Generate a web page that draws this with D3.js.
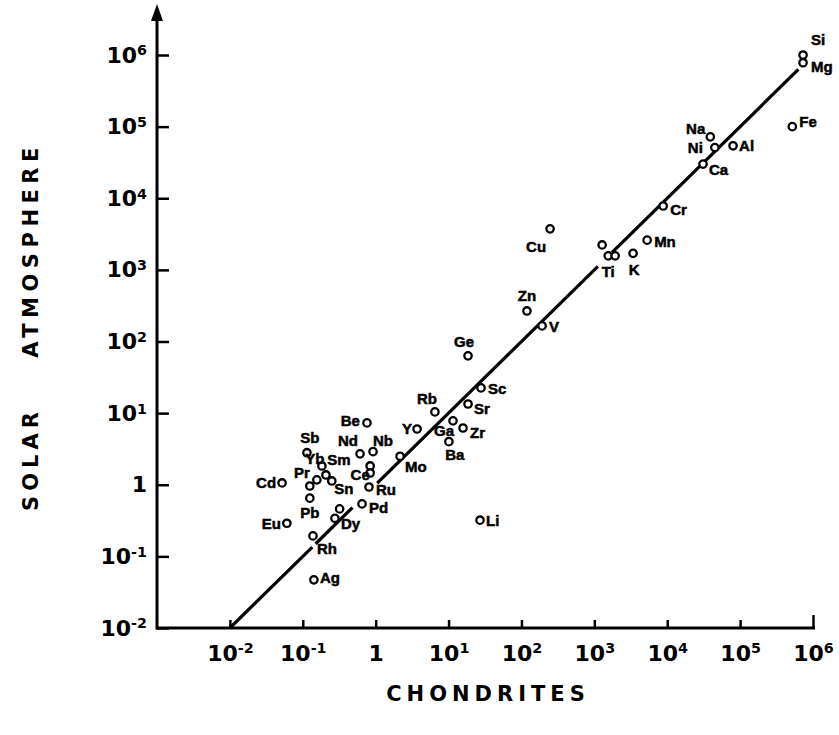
<!DOCTYPE html>
<html lang="en">
<head>
<meta charset="UTF-8">
<title>Solar atmosphere vs chondrites</title>
<script src="https://cdn.jsdelivr.net/npm/d3@7"></script>
<style>
  body { margin: 0; background: #fff; }
  .tick text, .ttl { font-family: "DejaVu Sans", sans-serif; font-weight: bold; fill: #000; }
  .lbl { font-family: "Liberation Sans", Arial, sans-serif; font-weight: bold; font-size: 15px;
         fill: #000; stroke: #000; stroke-width: 0.5px; }
</style>
</head>
<body>
<script>
// element names ("" = unlabelled point)
var elements = ["Si", "Mg", "Fe", "Na", "Ni", "Al", "Ca", "Cr", "Mn", "K", "Ti", "", "",
  "Cu", "Zn", "V", "Ge", "Sc", "Sr", "Rb", "Zr", "Ga", "Ba", "Y", "Mo", "Be", "Nd", "Nb",
  "Ce", "", "Ru", "Pd", "", "Dy", "Rh", "Pb", "Eu", "Ag", "Li", "Cd", "Sb", "Yb", "Sm",
  "Sn", "Pr", ""];
// abundance in chondrites (x)
var chondrites = [7.3e5, 7.3e5, 5.2e5, 3.9e4, 4.5e4, 8.0e4, 3.1e4, 8.8e3, 5.3e3, 3.4e3, 1.55e3, 1.93e3, 1.28e3,
  247, 119, 192, 18.5, 27.9, 18.5, 6.5, 15.8, 11.5, 10.1, 3.7, 2.16, 0.76, 0.61, 0.92,
  0.84, 0.84, 0.81, 0.65, 0.32, 0.276, 0.138, 0.125, 0.0605, 0.142, 27, 0.052, 0.114, 0.183, 0.208,
  0.25, 0.125, 0.156];
// abundance in the solar atmosphere (y)
var solar = [1.0e6, 7.8e5, 1.0e5, 7.2e4, 5.1e4, 5.4e4, 3.0e4, 7.8e3, 2.6e3, 1.7e3, 1.57e3, 1.57e3, 2.23e3,
  3.74e3, 267, 165, 63, 22.5, 13.4, 10.4, 6.2, 7.8, 4.0, 6.0, 2.5, 7.3, 2.7, 2.9,
  1.83, 1.46, 0.93, 0.54, 0.46, 0.34, 0.193, 0.65, 0.29, 0.047, 0.32, 1.06, 2.8, 1.83, 1.37,
  1.13, 0.96, 1.17];

var tickValues = [1e-2, 1e-1, 1, 1e1, 1e2, 1e3, 1e4, 1e5, 1e6];
var tickBase = ["10", "10", "1", "10", "10", "10", "10", "10", "10"];
var tickExp = ["-2", "-1", "", "1", "2", "3", "4", "5", "6"];

// pieces of the 1:1 line (chondrite range), broken where the original is broken
var fitLine = [[0.01, 0.135], [0.15, 0.48], [1.05, 1120], [1740, 6.3e5]];

// label placement relative to each point: dx, dy, anchor
var labelPos = {
  Si: [15, -15, "middle"], Mg: [8, 4, "start"], Fe: [7, -5, "start"], Na: [-5, -8, "end"],
  Ni: [-12, 0, "end"], Al: [6, 0, "start"], Ca: [6, 6, "start"], Cr: [7, 4, "start"],
  Mn: [7, 2, "start"], K: [1, 16, "middle"], Ti: [0, 16, "middle"], Cu: [-14, 18, "middle"],
  Zn: [0, -15, "middle"], V: [7, 1, "start"], Ge: [-4, -14, "middle"], Sc: [7, 1, "start"],
  Sr: [6, 5, "start"], Rb: [-8, -13, "middle"], Zr: [7, 5, "start"], Ga: [-9, 10, "middle"],
  Ba: [6, 13, "middle"], Y: [-5, 0, "end"], Mo: [5, 11, "start"], Be: [-7, -2, "end"],
  Nd: [-12, -13, "middle"], Nb: [10, -11, "middle"], Ce: [-10, 9, "middle"], Ru: [7, 3, "start"],
  Pd: [7, 4, "start"], Dy: [6, 5, "start"], Rh: [4, 13, "start"], Pb: [0, 15, "middle"],
  Eu: [-6, 0, "end"], Ag: [6, -2, "start"], Li: [6, 1, "start"], Cd: [-6, 0, "end"],
  Sb: [3, -15, "middle"], Yb: [-7, -7, "middle"], Sm: [13, -15, "middle"], Sn: [12, 8, "middle"],
  Pr: [-8, -13, "middle"]
};

var svg = d3.select("body").append("svg")
  .attr("width", 839)
  .attr("height", 735);

var x = d3.scaleLog().domain([1e-3, 1e6]).range([157, 813]);
var y = d3.scaleLog().domain([1e-2, 1e6]).range([628, 55]);

function superLabels(sel, size) {
  sel.selectAll(".tick text").each(function(d) {
    var i = tickValues.indexOf(d);
    var t = d3.select(this).text("").style("font-size", size + "px");
    t.append("tspan").text(tickBase[i]);
    if (tickExp[i]) {
      t.append("tspan").attr("dy", "-0.5em").style("font-size", "0.65em").text(tickExp[i]);
    }
  });
}

// x axis
var gx = svg.append("g")
  .attr("transform", "translate(0,628)")
  .call(d3.axisBottom(x).tickValues(tickValues).tickSize(-8).tickPadding(17).tickFormat(""));
gx.select(".domain").remove();
gx.selectAll(".tick line").attr("stroke-width", 2.5);
gx.selectAll(".tick").filter(function(d) { return d === 1e6; }).select("line").attr("y2", -13);
superLabels(gx, 22);

// y axis
var gy = svg.append("g")
  .attr("transform", "translate(157,0)")
  .call(d3.axisLeft(y).tickValues(tickValues).tickSize(-12).tickPadding(10).tickFormat(""));
gy.select(".domain").remove();
gy.selectAll(".tick line").attr("stroke-width", 2.5);
superLabels(gy, 22);

// axis lines + arrow
svg.append("line").attr("x1", 157).attr("x2", 815).attr("y1", 628).attr("y2", 628)
  .attr("stroke", "#000").attr("stroke-width", 3);
svg.append("line").attr("x1", 157).attr("x2", 157).attr("y1", 629.5).attr("y2", 16)
  .attr("stroke", "#000").attr("stroke-width", 3);
svg.append("path").attr("d", "M151,21L157,4L163,21Z").attr("fill", "#000");

// 1:1 line
svg.selectAll(".fit")
  .data(fitLine)
  .enter()
  .append("line")
  .attr("class", "fit")
  .attr("x1", function(d) { return x(d[0]); })
  .attr("y1", function(d) { return y(d[0]); })
  .attr("x2", function(d) { return x(d[1]); })
  .attr("y2", function(d) { return y(d[1]); })
  .attr("stroke", "#000")
  .attr("stroke-width", 3.2);

var pts = elements.map(function(e, i) { return {el: e, cx: chondrites[i], sy: solar[i]}; });

svg.selectAll("circle.pt")
  .data(pts)
  .enter()
  .append("circle")
  .attr("class", "pt")
  .attr("cx", function(d) { return x(d.cx); })
  .attr("cy", function(d) { return y(d.sy); })
  .attr("r", 3.7)
  .attr("fill", "#fff")
  .attr("stroke", "#000")
  .attr("stroke-width", 2.3);

svg.selectAll("text.lbl")
  .data(pts.filter(function(d) { return d.el !== ""; }))
  .enter()
  .append("text")
  .attr("class", "lbl")
  .attr("x", function(d) { return x(d.cx) + labelPos[d.el][0]; })
  .attr("y", function(d) { return y(d.sy) + labelPos[d.el][1]; })
  .attr("dy", "0.35em")
  .attr("text-anchor", function(d) { return labelPos[d.el][2]; })
  .text(function(d) { return d.el; });

// axis titles
svg.append("text").attr("class", "ttl")
  .attr("x", 488).attr("y", 701)
  .attr("text-anchor", "middle")
  .style("font-size", "21px").style("letter-spacing", "5px")
  .text("CHONDRITES");

svg.append("text").attr("class", "ttl")
  .attr("transform", "translate(38,459) rotate(-90)")
  .attr("text-anchor", "middle")
  .style("font-size", "21px").style("letter-spacing", "5px")
  .text("SOLAR");
svg.append("text").attr("class", "ttl")
  .attr("transform", "translate(38,250) rotate(-90)")
  .attr("text-anchor", "middle")
  .style("font-size", "21px").style("letter-spacing", "5.5px")
  .text("ATMOSPHERE");
</script>
</body>
</html>
